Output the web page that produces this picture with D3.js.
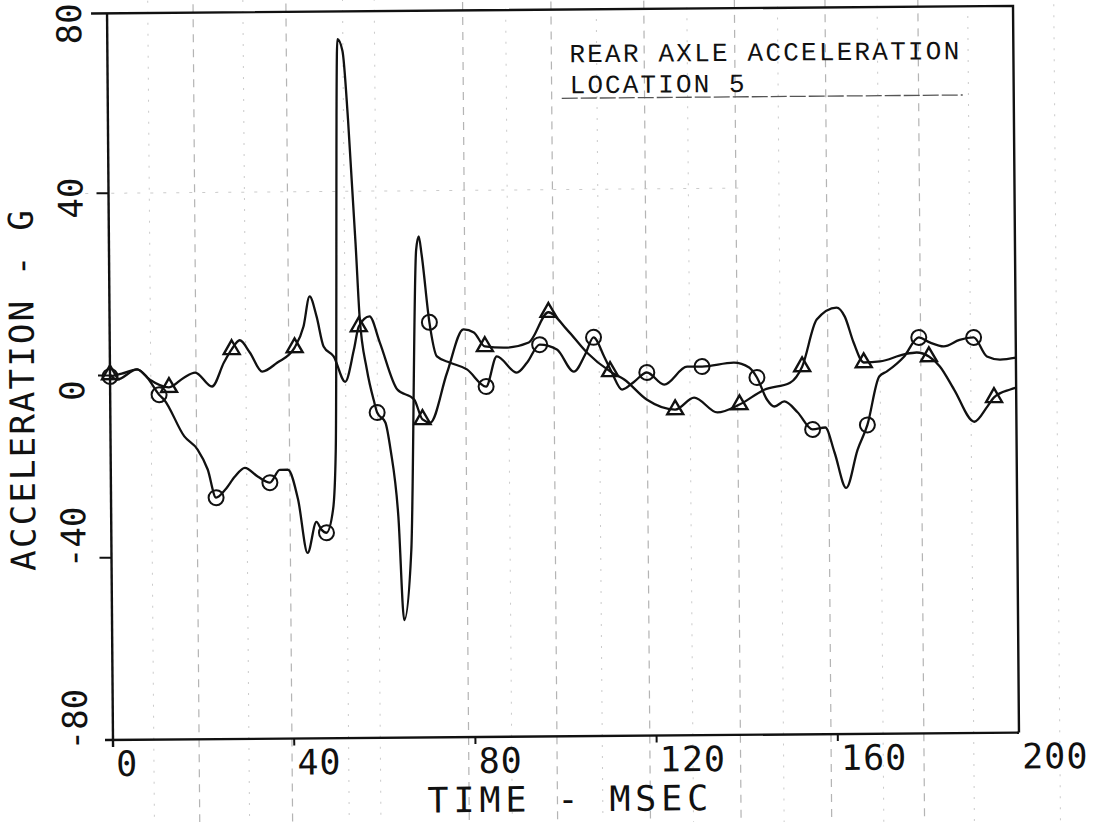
<!DOCTYPE html>
<html>
<head>
<meta charset="utf-8">
<script src="https://cdn.jsdelivr.net/npm/d3@7"></script>
<style>
  body { margin: 0; background: #fff; }
  svg { display: block; }
</style>
</head>
<body>
<div id="chart"></div>
<script>
// Circle-marked trace (time in msec, acceleration in G)
const circleTime = [0, 2.6, 6, 8.2, 10.8, 11.9, 16.3, 19.2, 21.4, 23.2, 25.2, 27.4, 29.6, 32.5, 35.1, 37.3, 39.1, 41.3, 43.3, 45.3, 46.4, 47.5, 49.0, 49.7, 50.8, 51.9, 53.0, 54.5, 55.2, 56.7, 58.3, 58.9, 60.7, 61.8, 63.4, 64.5, 66.2, 67.8, 68.4, 69.0, 70.6, 72.2, 75.1, 78.8, 83.0, 85.4, 89.8, 92.1, 94.9, 98.7, 102.4, 104.9, 106.8, 109.1, 110.8, 113.0, 115.7, 118.5, 122.3, 127.4, 130.7, 137.7, 141.1, 142.8, 145.0, 146.6, 148.8, 151.7, 155.0, 157.8, 159.8, 162.3, 164.9, 167.1, 169.8, 171.5, 175.3, 178.6, 181.0, 184.1, 187.6, 190.7, 193.6, 196.5, 200];
const circleAccel = [-0.2, 0.4, 1.3, -0.5, -4.3, -5.4, -13.5, -16.4, -20.8, -27.0, -25.3, -22.4, -20.5, -22.5, -23.8, -21.0, -21.0, -27.6, -39.3, -32.5, -34.2, -34.9, -29.8, -16.7, 73.4, 70.8, 55.8, 27.3, 12.5, 0.9, -6.4, -8.6, -10.8, -16.8, -31.5, -54.2, -38.8, 27.0, 30.0, 26.0, 11.1, 3.6, 2.2, 0.7, -3.1, 3.5, -0.1, 2.1, 6.0, 4.9, 0.0, 3.7, 7.5, 3.3, -0.3, -4.0, -2.3, -0.3, -3.0, 0.9, 0.9, 1.7, 0.6, -1.6, -6.5, -8.0, -6.9, -9.3, -13.1, -12.7, -18.2, -26.0, -17.6, -12.2, -1.6, -0.5, 2.7, 6.9, 5.8, 4.9, 6.3, 6.8, 2.6, 1.9, 2.3];
const circleMarkTimes = [0, 10.8, 23.2, 35.1, 47.5, 58.9, 70.6, 83.0, 94.9, 106.8, 118.5, 130.7, 142.8, 155.0, 167.1, 178.6, 190.7];

// Triangle-marked trace
const triangleTime = [0, 1.5, 6, 8.8, 13.0, 16.3, 18.8, 22.5, 25.2, 26.9, 28.7, 30.9, 33.6, 36.9, 40.8, 42.8, 44.2, 45.7, 47.2, 49.4, 51.9, 53.9, 55.0, 57.4, 59.6, 63.4, 67.1, 68.9, 70.6, 74.4, 78.1, 80.4, 82.8, 87.2, 92.5, 96.9, 100.9, 105.3, 110.4, 113.5, 118.5, 124.7, 128.9, 134.0, 138.9, 144.4, 150.1, 152.8, 156.1, 160.5, 162.3, 164.2, 166.4, 170.0, 175.3, 178.1, 180.8, 183.2, 186.3, 190.7, 193.6, 195.1, 198.7, 200];
const triangleAccel = [0.2, -0.9, 1.3, -1.0, -2.7, -0.6, 0.5, -2.6, 2.7, 5.5, 7.5, 4.8, 0.6, 2.5, 5.8, 10.4, 17.0, 12.6, 6.0, 3.8, -1.8, 5.3, 10.3, 12.5, 6.8, -3.6, -5.8, -10.2, -10.9, 0.0, 9.5, 8.8, 5.7, 5.4, 6.5, 13.1, 9.3, 4.2, 0.0, -1.8, -6.3, -8.5, -5.9, -9.2, -7.5, -4.3, -2.8, 0.7, 11.0, 13.6, 11.6, 5.9, 1.5, 1.7, 3.2, 3.6, 2.7, 0.5, -4.6, -11.7, -8.4, -6.4, -4.7, -4.3];
const triangleMarkTimes = [0, 13.0, 26.9, 40.8, 55.0, 68.9, 82.8, 96.9, 110.4, 124.7, 138.9, 152.8, 166.4, 180.8, 195.1];

const xTicks = [0, 40, 80, 120, 160, 200];
const yTicks = [-80, -40, 0, 40, 80];
const titleLines = ["REAR AXLE ACCELERATION", "LOCATION 5"];

// faint graph-paper rulings showing through the scan (msec)
const paperLinesMs = [19, 39.5, 78.5, 98, 118.5, 138.5, 158.5, 179];
const paperLinesFaintMs = [9, 30, 52, 59, 88, 108, 128, 148, 170, 190, 209];

const width = 1103;
const height = 822;

const svg = d3
  .select("#chart")
  .append("svg")
  .attr("width", width)
  .attr("height", height);

svg.append("rect").attr("width", width).attr("height", height).attr("fill", "#fff");

// the scanned sheet is tilted a little
const g = svg.append("g").attr("transform", "rotate(-0.47, 113, 740)");

const x = d3.scaleLinear().domain([0, 200]).range([113, 1019]);
const y = d3.scaleLinear().domain([-80, 80]).range([740, 11]);

// Paper rulings
g.selectAll("line.paper")
  .data(paperLinesMs)
  .enter()
  .append("line")
  .attr("class", "paper")
  .attr("x1", (d) => x(d))
  .attr("x2", (d) => x(d))
  .attr("y1", -10)
  .attr("y2", 830)
  .attr("stroke", "#777")
  .attr("stroke-width", 1.2)
  .attr("stroke-dasharray", "8,7")
  .attr("opacity", 0.55);

g.selectAll("line.paper-faint")
  .data(paperLinesFaintMs)
  .enter()
  .append("line")
  .attr("class", "paper-faint")
  .attr("x1", (d) => x(d))
  .attr("x2", (d) => x(d))
  .attr("y1", -10)
  .attr("y2", 830)
  .attr("stroke", "#999")
  .attr("stroke-width", 1)
  .attr("stroke-dasharray", "2,9")
  .attr("opacity", 0.5);

g.append("line")
  .attr("x1", x(-8))
  .attr("x2", x(140))
  .attr("y1", y(40))
  .attr("y2", y(40))
  .attr("stroke", "#999")
  .attr("stroke-width", 1)
  .attr("stroke-dasharray", "3,10")
  .attr("opacity", 0.5);

// Frame and axes
g.append("path")
  .attr("d", `M97,${y(79.5)} H${x(200)} V${y(-80)}`)
  .attr("fill", "none")
  .attr("stroke", "#111")
  .attr("stroke-width", 2.4);

g.append("line")
  .attr("x1", x(0))
  .attr("x2", x(0))
  .attr("y1", y(79.5))
  .attr("y2", y(-80) + 7)
  .attr("stroke", "#111")
  .attr("stroke-width", 2.4);

g.append("line")
  .attr("x1", x(0) - 8)
  .attr("x2", x(200))
  .attr("y1", y(-80))
  .attr("y2", y(-80))
  .attr("stroke", "#111")
  .attr("stroke-width", 2.4);

// Tick marks
g.selectAll("line.xtick")
  .data(xTicks.filter((d) => d > 0 && d < 200))
  .enter()
  .append("line")
  .attr("class", "xtick")
  .attr("x1", (d) => x(d))
  .attr("x2", (d) => x(d))
  .attr("y1", y(-80))
  .attr("y2", y(-80) + 7)
  .attr("stroke", "#111")
  .attr("stroke-width", 2);

g.selectAll("line.ytick")
  .data(yTicks.filter((d) => d > -80 && d < 80))
  .enter()
  .append("line")
  .attr("class", "ytick")
  .attr("x1", x(0) - 12)
  .attr("x2", x(0))
  .attr("y1", (d) => y(d))
  .attr("y2", (d) => y(d))
  .attr("stroke", "#111")
  .attr("stroke-width", 2);

// Tick labels
const plotFont = "'DejaVu Sans Mono', 'Liberation Mono', monospace";

g.selectAll("text.xlabel")
  .data(xTicks)
  .enter()
  .append("text")
  .attr("class", "xlabel")
  .attr("x", (d) => x(d) + 3)
  .attr("y", 776)
  .attr("font-family", plotFont)
  .attr("font-size", "35px")
  .attr("letter-spacing", "1px")
  .attr("fill", "#111")
  .text((d) => d);

g.selectAll("text.ylabel")
  .data(yTicks)
  .enter()
  .append("text")
  .attr("class", "ylabel")
  .attr("transform", (d) => `translate(87, ${Math.max(y(d) + (d < 0 ? 10 : 25), 44)}) rotate(-90)`)
  .attr("font-family", plotFont)
  .attr("font-size", "34px")
  .attr("fill", "#111")
  .text((d) => (d < 0 ? "-" + Math.abs(d) : d));

// Axis titles
g.append("text")
  .attr("x", 427)
  .attr("y", 815)
  .attr("font-family", plotFont)
  .attr("font-size", "35px")
  .attr("letter-spacing", "4.9px")
  .attr("fill", "#111")
  .text("TIME - MSEC");

g.append("text")
  .attr("transform", "translate(37, 570) rotate(-90)")
  .attr("font-family", plotFont)
  .attr("font-size", "34px")
  .attr("letter-spacing", "2.2px")
  .attr("fill", "#111")
  .text("ACCELERATION - G");

// Title block
g.selectAll("text.title")
  .data(titleLines)
  .enter()
  .append("text")
  .attr("class", "title")
  .attr("x", 575)
  .attr("y", (d, i) => 66 + i * 31)
  .attr("font-family", "'Liberation Mono', 'DejaVu Sans Mono', monospace")
  .attr("font-size", "26px")
  .attr("textLength", (d) => d.length * 17.9 - 4)
  .attr("lengthAdjust", "spacing")
  .attr("fill", "#111")
  .text((d) => d);

g.append("line")
  .attr("x1", 567)
  .attr("x2", 968)
  .attr("y1", 102)
  .attr("y2", 102)
  .attr("stroke", "#555")
  .attr("stroke-width", 1.3)
  .attr("stroke-dasharray", "16,3");

// Traces
const line = d3
  .line()
  .x((d) => x(d[0]))
  .y((d) => y(d[1]))
  .curve(d3.curveMonotoneX);

const circleData = circleTime.map((t, i) => [t, circleAccel[i]]);
const triangleData = triangleTime.map((t, i) => [t, triangleAccel[i]]);

g.append("path")
  .datum(circleData)
  .attr("d", line)
  .attr("fill", "none")
  .attr("stroke", "#111")
  .attr("stroke-width", 2.3)
  .attr("stroke-linejoin", "round");

g.append("path")
  .datum(triangleData)
  .attr("d", line)
  .attr("fill", "none")
  .attr("stroke", "#111")
  .attr("stroke-width", 2.3)
  .attr("stroke-linejoin", "round");

// Markers
const circleMarks = circleData.filter((d) => circleMarkTimes.includes(d[0]));
const triangleMarks = triangleData.filter((d) => triangleMarkTimes.includes(d[0]));

g.selectAll("circle.mark")
  .data(circleMarks)
  .enter()
  .append("circle")
  .attr("class", "mark")
  .attr("cx", (d) => x(d[0]))
  .attr("cy", (d) => y(d[1]))
  .attr("r", 7.5)
  .attr("fill", "none")
  .attr("stroke", "#111")
  .attr("stroke-width", 2);

const tri = d3.symbol().type(d3.symbolTriangle).size(110);

g.selectAll("path.mark")
  .data(triangleMarks)
  .enter()
  .append("path")
  .attr("class", "mark")
  .attr("d", tri)
  .attr("transform", (d) => `translate(${x(d[0])}, ${y(d[1])})`)
  .attr("fill", "none")
  .attr("stroke", "#111")
  .attr("stroke-width", 2.4)
  .attr("stroke-linejoin", "miter");
</script>
</body>
</html>
